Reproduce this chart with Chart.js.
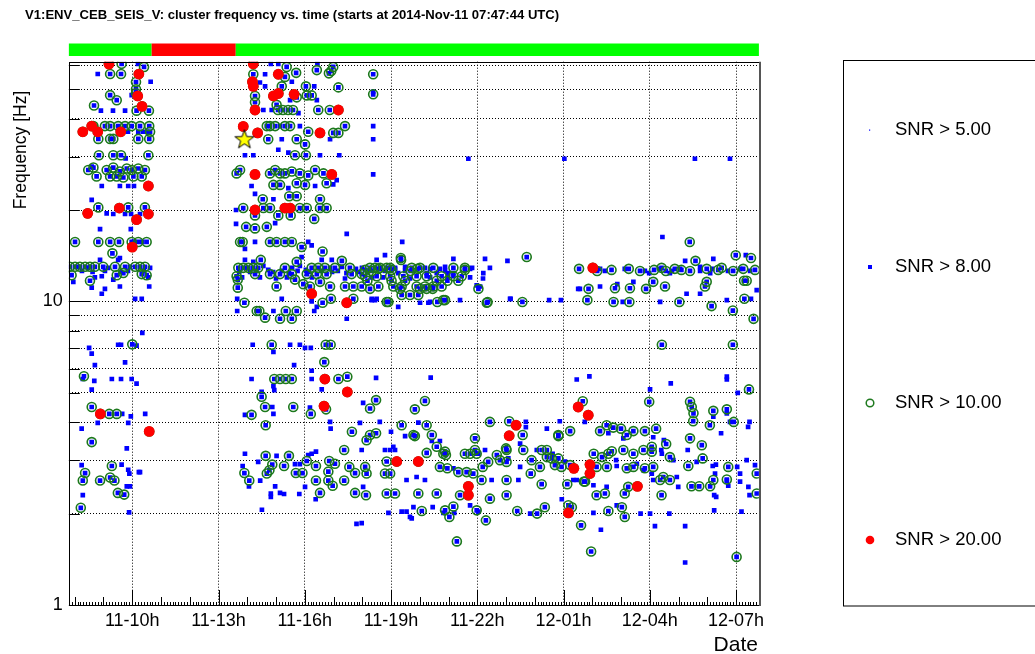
<!DOCTYPE html>
<html><head><meta charset="utf-8">
<script src="https://cdn.jsdelivr.net/npm/chart.js@4.4.1/dist/chart.umd.min.js"></script>
<style>html,body{margin:0;padding:0;background:#fff;overflow:hidden}canvas{display:block}</style>
</head><body>
<canvas id="c" width="1035" height="654"></canvas>
<script>
// ---- text / axis definitions ----
const titleText = 'V1:ENV_CEB_SEIS_V: cluster frequency vs. time (starts at 2014-Nov-11 07:47:44 UTC)';
const xAxisTitle = 'Date';
const yAxisTitle = 'Frequency [Hz]';
const timeStart = 7.7956;   // hours since 2014-11-11 00:00 UTC
const timeEnd = 31.7956;
const freqMin = 1;
const freqMax = 61.6;
const xTickHours = [10, 13, 16, 19, 22, 25, 28, 31];
const xTickLabels = ['11-10h', '11-13h', '11-16h', '11-19h', '11-22h', '12-01h', '12-04h', '12-07h'];
const yTickValues = [1, 2, 3, 4, 5, 6, 7, 8, 9, 10, 20, 30, 40, 50, 60];
const yTickLabels = { 1: '1', 10: '10' };
const legendLabels = ['SNR > 5.00', 'SNR > 8.00', 'SNR > 10.00', 'SNR > 20.00'];
// data-quality segments (hours)
const segStart = [7.7956, 10.675, 13.60];
const segEnd = [10.675, 13.60, 31.7956];
const segGood = [true, false, true];

// ---- events: [time (h since Nov-11 00:00), frequency (Hz)] ----
// SNR between 8 and 10
const snr8only = [
[10.20,60.6],[8.80,56.1],[10.64,52.9],[9.75,42.5],[9.33,42.5],[8.91,42.5],[9.98,47.8],
[10.21,36.2],[10.38,36.2],[9.85,36.2],[10.52,36.2],[9.77,29.6],
[8.94,24.0],[9.57,24.0],[9.86,24.0],[10.06,24.0],[8.59,27.8],
[9.11,19.5],[9.34,19.4],[9.75,19.4],[9.96,19.4],[10.27,19.4],[8.59,21.6],[8.88,17.3],[9.95,17.3],
[10.06,15.7],[10.35,15.7],[8.88,13.7],[9.57,13.9],[9.51,13.7],
[8.11,13.0],[8.46,12.9],[9.16,12.9],[9.92,13.0],[10.62,12.9],[8.25,12.6],[8.62,12.5],[9.05,12.6],[9.60,12.5],[9.85,12.6],[10.40,12.6],
[7.95,11.6],[8.70,12.0],[8.94,12.1],[9.34,11.8],[9.57,11.2],[9.05,11.0],[8.94,10.6],[8.59,11.1],[10.56,12.0],[10.59,11.2],[10.10,10.2],[10.33,10.2],
[10.35,7.88],[10.15,7.15],[8.50,7.03],[8.59,6.73],[8.70,6.17],[9.51,7.20],[9.61,7.20],[9.75,6.30],[8.28,5.55],[8.68,5.47],[9.29,5.55],[9.61,5.55],[9.98,5.55],[10.15,5.36],[8.59,5.12],[9.65,4.26],[8.80,3.98],[9.95,4.18],[9.86,3.98],[10.45,4.26],[8.24,3.81],[9.81,3.28],[8.24,2.89],[8.28,2.30],[9.63,2.90],[9.86,2.79],[9.90,2.71],[9.81,2.46],[9.92,2.46],[10.23,2.74],[10.27,2.74],[9.89,2.02],
[14.82,60.6],[15.08,60.6],[16.44,60.6],[14.62,56.0],[14.44,52.6],[15.55,52.9],[16.33,51.1],[14.62,51.1],[16.42,46.0],[15.49,46.0],[18.38,49.0],[14.56,42.7],[14.85,42.7],[15.78,41.7],
[18.38,37.8],[18.38,34.2],[15.20,34.2],[15.08,31.6],[15.43,30.9],[13.92,30.3],[14.21,30.3],[16.53,30.3],[17.20,30.3],[16.88,34.2],[21.69,29.5],[15.14,37.8],[15.83,37.8],
[14.15,24.0],[15.43,23.6],[16.36,24.0],[16.99,24.3],[17.11,25.1],[18.38,26.2],
[14.27,22.6],[14.91,21.7],[13.61,20.0],[13.61,18.0],[17.46,16.7],[14.97,18.1],
[13.92,14.9],[14.27,15.7],[16.12,15.7],[16.24,15.3],[19.39,15.7],[15.89,14.0],[13.92,13.7],[14.21,13.5],[16.94,13.7],[16.59,13.7],[18.79,14.2],[18.50,13.7],[21.17,13.8],[22.27,13.8],[23.05,13.6],
[13.99,12.9],[14.56,13.1],[14.73,12.7],[15.56,12.9],[15.83,13.1],[16.04,12.7],[16.88,12.9],[17.29,13.0],[17.78,12.8],[17.99,12.9],[19.14,12.9],[19.49,13.0],[20.18,12.9],[20.70,12.8],[20.88,13.0],[21.82,12.9],[22.44,12.9],
[13.72,12.5],[14.10,12.5],[14.30,12.6],[14.90,12.5],[15.20,12.6],[15.45,12.4],[15.75,12.6],[16.15,12.5],[16.58,12.6],[16.95,12.5],[17.15,12.6],[17.45,12.4],[17.85,12.5],[18.18,12.5],
[13.82,12.0],[14.44,12.0],[15.00,11.9],[15.38,12.0],[16.25,12.0],[17.40,11.9],[18.34,12.0],[18.72,12.0],[19.66,11.9],[20.36,12.0],[20.98,12.0],[21.75,12.0],[22.20,11.9],
[13.65,10.2],[15.20,10.2],[16.42,9.59],[18.33,10.2],[18.50,10.2],[19.25,9.59],[20.01,9.9],[20.30,9.9],[23.14,10.2],[22.10,11.2],[22.21,12.4],[17.46,8.77],
[13.65,9.3],[14.91,9.3],[16.33,9.3],[16.24,10.0],
[14.19,7.2],[14.91,6.82],[15.49,7.2],[15.83,7.2],[16.01,7.03],[16.21,7.03],[16.24,5.91],[15.63,6.17],[14.15,5.55],[16.24,5.55],[14.91,5.26],[14.94,5.10],[16.59,5.13],[14.50,5.04],[14.87,4.49],[16.18,4.47],[13.92,4.23],[14.91,4.26],[16.88,4.01],[16.90,3.81],
[13.92,3.15],[15.02,3.10],[16.12,3.12],[16.24,3.15],[16.39,3.20],[14.38,2.96],[15.66,2.91],[15.83,2.91],[13.84,2.87],[14.06,2.46],[14.45,2.57],[14.97,2.46],[14.82,2.33],[14.82,2.27],[15.14,2.34],[15.28,2.32],[15.81,2.32],[16.01,2.45],[16.38,2.23],[14.51,2.06],[17.80,1.85],
[25.03,29.5],[29.57,29.5],[30.79,29.5],[28.44,16.3],
[31.34,14.2],[30.21,13.8],[29.23,13.6],
[20.24,12.4],[20.59,12.4],[20.99,12.4],[21.17,12.4],[19.25,12.4],[26.27,11.2],[25.51,11.0],[26.87,11.4],[27.43,11.6],[27.98,12.4],[28.70,12.4],[30.10,12.4],[29.75,13.0],
[18.33,10.1],[18.44,10.1],[20.36,9.96],[21.40,10.1],[21.98,11.3],[23.16,10.2],[24.50,10.1],[24.91,10.1],[25.57,11.0],[27.06,9.96],[28.36,9.96],[29.28,10.6],[29.75,10.6],[30.68,10.1],[31.52,10.2],[31.72,10.9],
[18.62,12.8],[18.79,12.6],[19.14,12.8],[19.49,12.6],[20.36,12.8],[20.88,12.6],[21.75,12.8],[26.27,12.8],[26.44,12.6],[27.13,12.8],[27.83,12.6],[28.36,12.8],[28.77,12.6],[29.05,12.8],[29.75,12.6],[30.17,12.8],[30.72,12.6],[31.14,12.8],[31.49,12.6],
[20.38,5.61],[18.48,5.60],[28.73,5.37],[30.68,5.65],[30.68,5.53],[31.06,5.00],[28.01,5.13],[25.46,5.53],[25.90,5.66],
[18.03,4.63],[18.61,4.01],[17.92,3.98],[19.00,3.72],[19.49,3.60],[19.95,3.99],[23.69,4.01],[23.69,3.85],[30.79,4.01],[30.68,4.28],[30.48,3.68],[31.47,4.01],[24.87,4.03],[24.42,3.81],
[20.42,3.47],[20.70,3.47],[19.08,3.32],[19.14,3.24],[18.79,3.24],[18.97,3.24],[23.49,3.40],[24.62,3.15],[28.40,3.24],[28.42,3.15],[29.32,3.24],[30.19,2.87],[30.30,2.90],[31.04,2.85],[30.68,2.57],[30.73,2.47],
[18.03,2.45],[19.54,2.58],[20.18,2.58],[22.50,2.58],[23.43,2.58],[25.34,2.58],[26.04,2.48],[26.50,2.45],[28.12,2.58],[28.99,2.45],[30.24,2.30],[30.31,2.27],[31.14,2.55],[31.43,2.45],[31.47,2.30],
[17.98,1.86],[18.91,2.01],[19.37,2.03],[19.54,2.03],[19.66,1.95],[19.72,1.93],[19.78,2.10],[20.45,2.10],[20.82,2.01],[21.20,2.01],[21.75,2.13],[22.04,2.03],[23.84,2.00],[24.94,2.23],[26.30,1.77],[26.04,2.01],[26.85,2.13],[27.68,2.00],[28.01,2.00],[28.18,1.82],[28.68,2.00],[29.23,1.82],[30.24,2.05],[31.19,2.03],[29.23,1.38],
[17.98,3.24],[19.89,2.64],[21.17,2.82],[22.04,3.15],[22.27,3.24],[23.08,3.04],[23.49,2.85],[24.07,3.24],[25.05,2.97],[25.46,2.58],[26.83,3.00],[26.85,2.87],[27.55,2.92],[27.78,2.78],[28.07,2.71],[28.82,3.00],[28.94,2.64],[29.63,2.96],[30.27,2.71],[31.14,2.71],[31.37,3.00],[31.66,2.89],[31.42,3.86],[30.21,4.17],[28.49,3.49],[28.12,3.57],[27.08,3.54],[26.56,3.68],[25.74,4.01]
];
// SNR between 10 and 20
const snr10only = [
[9.63,60.6],[10.41,59.2],[9.23,56.1],[9.61,56.1],[10.13,52.8],[10.13,50.0],[10.13,48.5],[10.15,42.5],[10.58,42.5],[8.67,44.2],[9.23,47.8],[9.46,46.0],
[8.65,37.8],[9.05,37.8],[9.23,37.8],[9.51,37.8],[9.75,37.8],[9.98,37.8],[10.27,37.8],[10.59,37.8],
[8.82,34.3],[9.23,34.3],[9.34,34.3],[10.21,34.3],[10.59,34.3],[10.62,36.2],
[8.84,30.3],[9.34,30.3],[9.61,30.3],[10.56,30.3],
[8.47,27.1],[8.65,27.6],[9.11,27.1],[9.34,27.6],[9.57,26.8],[9.81,27.4],[9.98,27.1],[10.21,27.4],[10.44,27.1],
[8.76,25.8],[9.23,25.8],[9.46,25.8],[9.69,25.6],[10.04,25.8],[10.33,25.8],
[8.82,20.4],[9.86,20.4],[10.44,20.4],
[8.01,15.7],[8.82,15.7],[9.23,15.7],[9.54,15.7],[9.98,15.7],[10.21,15.7],[10.50,15.7],[9.31,14.4],
[7.83,13.0],[8.01,13.0],[8.18,13.0],[8.36,13.0],[8.53,13.0],[8.70,13.0],[8.99,13.0],[9.40,13.0],[9.75,13.0],[10.10,13.0],[10.27,13.0],[10.44,13.0],
[7.89,12.2],[9.46,12.2],[9.69,12.4],[10.33,12.3],[10.50,12.2],[8.53,11.7],
[10.0,7.22],[8.32,5.67],[8.59,4.49],[9.20,4.26],[9.46,4.26],[8.59,3.44],[8.36,2.72],[8.28,2.57],[8.88,2.57],[9.29,2.87],[9.23,2.63],[9.38,2.57],[9.50,2.34],[9.72,2.31],[8.21,2.09],
[15.37,59.2],[16.99,59.2],[16.84,56.4],[16.92,57.4],[16.42,57.8],[14.21,56.0],[15.70,56.6],[15.31,54.9],[15.20,51.1],[16.04,51.1],[17.17,50.7],[14.27,47.5],[14.27,45.3],[15.72,47.0],[16.07,47.7],[16.24,47.7],[18.38,48.1],[18.38,56.0],[15.02,44.4],
[15.07,42.7],[15.24,42.7],[15.42,42.7],[15.59,42.7],[16.47,42.7],[16.87,42.7],
[14.68,37.8],[14.79,37.8],[14.97,37.8],[15.31,37.8],[15.49,37.8],[16.12,36.2],[17.17,35.9],[17.40,37.8],[16.99,35.9],[14.73,34.2],[15.72,34.2],[16.01,32.9],[15.66,30.3],[16.04,30.3],
[13.63,26.4],[13.75,27.1],[14.79,26.4],[14.97,27.1],[15.14,26.4],[15.31,26.4],[15.55,26.8],[15.83,26.4],[16.12,26.0],[16.36,27.1],[16.65,26.4],
[14.91,24.2],[15.14,24.2],[15.72,24.5],[16.01,24.2],[16.76,24.5],
[14.54,21.7],[15.46,22.2],[15.72,22.2],[16.53,21.7],
[13.86,20.3],[14.56,20.3],[14.79,20.3],[15.83,20.3],[16.07,20.3],[16.53,20.3],[16.76,20.3],[15.08,19.2],[16.33,18.7],[15.51,19.2],[14.27,19.2],
[13.96,17.6],[14.27,17.4],[14.68,17.6],
[13.75,15.7],[13.84,15.7],[14.79,15.7],[15.02,15.7],[15.31,15.7],[15.55,15.7],[15.89,15.1],[16.62,14.6],
[17.29,13.6],[14.47,13.7],[19.35,13.7],[15.72,13.5],
[13.69,12.9],[13.86,12.9],[14.04,12.9],[14.21,12.9],[14.38,12.9],[15.31,12.9],[16.24,12.9],[16.47,12.9],[16.70,12.9],[17.05,12.9],[17.57,12.9],[18.27,12.9],[18.44,12.9],[18.62,12.9],[18.85,12.9],[18.97,12.9],[19.72,12.9],[20.01,12.9],[20.47,12.9],[21.17,12.9],[21.57,12.9],
[14.27,12.3],[14.79,12.3],[15.14,12.3],[15.55,12.3],[16.07,12.3],[16.42,12.3],[16.76,12.3],[17.63,12.3],[17.98,12.3],
[13.63,12.1],[18.10,12.1],[18.50,12.1],[18.97,12.1],[19.43,12.1],[19.89,12.1],[20.24,12.1],[20.76,12.1],[21.17,12.1],[21.46,12.1],
[13.67,11.8],[13.67,11.1],[15.66,11.8],[15.95,11.4],[16.53,11.6],[16.88,11.2],[17.40,11.2],[17.69,11.2],[17.98,11.2],[18.27,11.0],[15.02,11.2],[16.18,11.2],[18.56,11.2],[19.08,11.2],[19.37,11.2],[19.89,11.2],[20.18,11.2],[20.47,11.2],[20.76,11.2],
[13.90,9.9],[16.62,9.9],[16.91,10.2],[17.69,10.2],[18.85,9.96],[19.37,10.5],[19.66,10.5],[19.95,10.5],[20.82,10.1],[22.33,9.9],
[14.33,9.3],[14.42,9.3],[14.62,8.84],[15.14,8.77],[15.34,9.3],[15.55,8.77],[15.72,9.3],
[14.85,7.2],[16.73,7.2],[16.90,7.2],[16.68,6.31],
[14.94,5.55],[15.14,5.55],[15.34,5.55],[15.55,5.55],[17.17,5.55],[17.48,5.65],
[14.50,4.85],[14.62,4.49],[15.60,4.49],[16.74,4.41],[16.21,4.26],[14.15,4.23],[14.64,3.91],[17.64,3.72],[17.37,3.24],
[14.64,3.10],[15.45,3.10],[14.87,2.90],[14.77,2.78],[14.68,2.71],[15.28,2.87],[16.07,2.98],[16.39,2.87],[16.85,2.98],[17.05,2.92],[17.55,2.85],[17.75,2.72],[13.90,2.72],[14.07,2.57],[15.69,2.72],[15.92,2.72],[16.39,2.57],[16.82,2.75],[16.82,2.57],[16.97,2.47],[17.37,2.57],[16.53,2.34],[17.75,2.34],
[19.34,13.9],[23.72,14.0],[29.39,15.7],[30.99,14.2],[31.52,13.9],[29.59,13.6],
[18.10,12.7],[18.33,12.6],[18.56,12.8],[19.02,12.7],[19.68,12.6],[19.92,12.8],[21.57,12.7],[25.54,12.8],[26.17,12.6],[26.67,12.7],[27.27,12.8],[27.66,12.6],[28.15,12.7],[28.41,12.9],[28.56,12.6],[28.87,12.8],[29.10,12.7],[29.40,12.6],[29.98,12.8],[30.38,12.7],[30.50,12.9],[30.90,12.6],[31.25,12.8],[31.66,12.7],
[18.18,11.7],[19.02,11.7],[19.49,11.7],[20.59,11.7],[20.96,11.7],[21.34,11.7],[28.12,11.6],[29.98,11.6],[31.28,11.7],[31.37,11.7],
[19.31,11.0],[20.01,11.0],[20.24,11.0],[20.45,11.0],[22.04,11.0],[25.87,11.0],[26.79,11.05],[27.31,11.05],[27.87,11.0],[28.53,11.2],[29.92,11.2],
[18.91,9.96],[20.61,9.96],[20.88,10.1],[22.36,9.96],[23.57,9.96],[25.83,10.1],[26.74,9.96],[27.29,9.96],[29.03,9.96],[30.89,9.33],[31.29,10.2],[31.61,8.76],[30.15,9.65],
[28.42,7.2],[30.89,7.2],[31.45,5.13],
[18.48,4.73],[18.27,4.44],[20.18,4.70],[19.83,4.41],[27.98,4.67],[29.40,4.67],[29.46,4.49],[29.52,4.28],[30.21,4.36],[30.68,4.41],[25.67,4.69],
[19.37,3.91],[20.24,3.91],[22.44,4.01],[23.11,4.03],[23.58,3.63],[19.78,3.63],[20.42,3.63],[18.48,3.68],[18.27,3.63],[29.51,4.03],[30.09,3.91],[30.92,4.01],[29.40,3.54],[25.23,3.74],[24.82,3.63],
[26.27,3.74],[26.50,3.91],[26.73,3.84],[27.00,3.81],[27.20,3.63],[27.43,3.74],[27.83,3.74],[28.22,3.81],
[21.92,3.54],[21.92,3.24],[23.02,3.24],[23.60,3.24],[22.68,3.12],[20.59,3.32],[20.88,3.20],[20.91,3.12],[20.24,3.17],[18.15,3.49],[19.83,3.60],
[24.24,3.24],[24.82,3.60],[24.42,3.24],[24.82,3.04],[26.05,3.15],[26.51,2.85],[26.34,3.07],[26.56,3.15],[26.68,3.21],[27.08,3.24],[27.43,3.15],[27.78,3.24],[28.07,3.32],[28.07,3.20],[28.57,3.39],[28.70,3.07],[29.34,2.87],[29.81,3.36],[29.84,3.04],[30.73,2.85],[31.72,2.71],[30.68,2.59],[30.21,2.58],
[18.85,2.97],[18.79,2.71],[18.97,2.71],[18.10,2.85],[18.15,2.71],[20.70,2.85],[20.96,2.82],[21.34,2.74],[21.63,2.74],[21.86,2.71],[20.82,3.15],[21.57,3.15],[21.75,3.15],[21.98,3.15],[22.19,2.85],[22.38,2.96],[22.79,3.00],[23.02,2.96],[23.00,3.28],[23.89,3.00],[24.18,2.85],[24.42,3.07],[24.59,3.04],[24.70,2.89],[24.93,2.85],[25.23,2.89],[25.75,2.55],[26.15,2.85],[27.20,2.82],[27.43,2.85],[27.83,2.82],[28.12,2.85],[28.36,2.58],[28.47,2.64],[28.70,2.58],
[18.13,2.30],[18.85,2.33],[19.14,2.33],[19.95,2.33],[20.59,2.33],[21.40,2.30],[22.15,2.58],[22.44,2.24],[23.02,2.30],[23.02,2.58],[23.86,2.71],[24.24,2.50],[25.13,2.50],[25.71,2.55],[26.15,2.30],[26.44,2.33],[27.25,2.45],[27.13,2.33],[28.41,2.30],[29.45,2.46],[29.72,2.46],[30.10,2.46],[31.72,2.33],
[20.07,2.04],[21.03,1.95],[20.88,2.05],[21.17,2.11],[21.98,2.05],[22.30,1.90],[23.39,2.04],[24.08,2.00],[24.35,2.10],[25.17,2.13],[25.29,2.10],[25.61,1.83],[26.56,2.04],[27.03,2.10],[27.13,1.95],[21.29,1.62],[25.96,1.50],[31.02,1.44]
];
// SNR above 20
const snr20 = [
[9.19,60.5],[10.23,56.1],[10.19,47.5],[10.34,43.9],[8.28,36.2],[8.59,37.8],[8.80,36.2],[9.60,36.2],[10.56,24.0],[8.45,19.5],[9.55,20.3],[10.15,18.6],[10.56,19.4],[10.0,15.1],[8.89,4.26],[10.59,3.73],
[14.21,60.6],[15.08,56.0],[14.18,52.9],[14.21,51.1],[14.91,47.5],[15.08,48.4],[15.63,48.1],[14.27,42.7],[17.17,42.7],[13.86,37.7],[14.36,35.9],[16.53,35.9],[14.27,26.2],[16.94,26.2],[14.27,20.0],[15.31,20.3],[15.49,20.3],[16.24,10.6],[17.46,9.9],[16.70,5.55],[17.48,5.03],[16.67,4.52],
[26.02,12.9],[19.20,2.97],[19.95,2.97],[23.35,3.91],[23.11,3.61],[25.51,4.49],[25.86,4.22],[25.36,2.82],[25.92,2.90],[25.92,2.71],[21.69,2.46],[21.69,2.30],[27.57,2.46],[25.17,2.01]
];
// loudest event
const loudest = [[13.90,34.2]];

// ---- build chart ----
const toXY = a => a.map(p => ({ x: p[0], y: p[1] }));
const allSnr8 = snr8only.concat(snr10only, snr20);
const allSnr10 = snr10only.concat(snr20);

function makeStar() {
  const c = document.createElement('canvas');
  c.width = 22; c.height = 22;
  const g = c.getContext('2d');
  g.beginPath();
  for (let i = 0; i < 10; i++) {
    const r = (i % 2) ? 4 : 10;
    const a = -Math.PI / 2 + i * Math.PI / 5;
    g.lineTo(11 + r * Math.cos(a), 11.5 + r * Math.sin(a));
  }
  g.closePath();
  g.fillStyle = '#ffff00'; g.fill();
  g.strokeStyle = '#000'; g.lineWidth = 1; g.stroke();
  return c;
}

const FONT = '"Liberation Sans", Arial, Helvetica, sans-serif';

const decor = {
  id: 'decor',
  beforeDraw(chart) {
    const ctx = chart.ctx;
    ctx.save(); ctx.fillStyle = '#fff'; ctx.fillRect(0, 0, chart.width, chart.height); ctx.restore();
  },
  afterDraw(chart) {
    const ctx = chart.ctx;
    const { left, right, top, bottom } = chart.chartArea;
    const xs = chart.scales.x, ys = chart.scales.y;
    ctx.save();
    // data-quality segment bar
    for (let i = 0; i < segStart.length; i++) {
      const x0 = xs.getPixelForValue(segStart[i]);
      const x1 = xs.getPixelForValue(segEnd[i]);
      ctx.fillStyle = segGood[i] ? '#00ff00' : '#ff0000';
      ctx.fillRect(x0, 43.5, x1 - x0, 12.5);
    }
    // frame
    ctx.strokeStyle = '#000'; ctx.lineWidth = 1;
    ctx.strokeRect(Math.round(left) + 0.5, Math.round(top) + 0.5, Math.round(right - left), Math.round(bottom - top));
    ctx.strokeStyle = '#555'; ctx.lineWidth = 2;
    ctx.beginPath(); ctx.moveTo(Math.round(right) + 1, top); ctx.lineTo(Math.round(right) + 1, bottom + 1); ctx.stroke();
    // ticks (inside, ROOT style)
    ctx.strokeStyle = '#000'; ctx.lineWidth = 1;
    ctx.beginPath();
    yTickValues.forEach(v => {
      const p = Math.round(ys.getPixelForValue(v)) + 0.5;
      const len = (v === 1 || v === 10) ? 22 : 11;
      ctx.moveTo(left, p); ctx.lineTo(left + len, p);
    });
    for (let h = Math.ceil(timeStart); h <= timeEnd; h++) {
      const p = Math.round(xs.getPixelForValue(h)) + 0.5;
      const len = xTickHours.includes(h) ? 15 : 8;
      ctx.moveTo(p, bottom); ctx.lineTo(p, bottom - len);
    }
    for (let k = Math.ceil(timeStart * 10); k <= timeEnd * 10; k++) {
      const p = Math.round(xs.getPixelForValue(k / 10)) + 0.5;
      ctx.moveTo(p, bottom); ctx.lineTo(p, bottom - 3);
    }
    ctx.stroke();
    // title
    ctx.fillStyle = '#000';
    ctx.font = 'bold 13.1px ' + FONT;
    ctx.textAlign = 'left'; ctx.textBaseline = 'alphabetic';
    ctx.fillText(titleText, 25, 19);
    // axis titles
    ctx.font = '21px ' + FONT;
    ctx.textAlign = 'right'; ctx.textBaseline = 'middle';
    ctx.fillText(xAxisTitle, right - 1, 645);
    ctx.save();
    ctx.font = '17.5px ' + FONT;
    ctx.translate(21, 150); ctx.rotate(-Math.PI / 2);
    ctx.textAlign = 'center';
    ctx.fillText(yAxisTitle, 0, 0);
    ctx.restore();
    // legend
    ctx.strokeStyle = '#000'; ctx.lineWidth = 1;
    ctx.strokeRect(843.5, 60.5, 220, 545.5);
    const ly = [130, 267, 403, 540];
    ctx.font = '18.5px ' + FONT;
    ctx.textAlign = 'left'; ctx.textBaseline = 'middle';
    legendLabels.forEach((lab, i) => {
      const y = ly[i];
      if (i === 0) { ctx.fillStyle = '#0000ff'; ctx.fillRect(869, y - 0.5, 1.2, 1.2); }
      if (i === 1) { ctx.fillStyle = '#0000ff'; ctx.fillRect(868, y - 2, 4, 4); }
      if (i === 2) { ctx.strokeStyle = '#1f7a1f'; ctx.lineWidth = 1.5; ctx.beginPath(); ctx.arc(870, y, 3.8, 0, Math.PI * 2); ctx.stroke(); }
      if (i === 3) { ctx.fillStyle = '#ff0000'; ctx.beginPath(); ctx.arc(870, y, 4.3, 0, Math.PI * 2); ctx.fill(); }
      ctx.fillStyle = '#000';
      ctx.fillText(lab, 895, y);
    });
    ctx.restore();
  }
};

new Chart(document.getElementById('c'), {
  type: 'scatter',
  data: {
    datasets: [
      { label: legendLabels[0], data: toXY(allSnr8), pointStyle: 'circle', pointRadius: 0.7, backgroundColor: '#0000ff', borderWidth: 0, order: 4 },
      { label: legendLabels[1], data: toXY(allSnr8), pointStyle: 'rect', pointRadius: 3.3, backgroundColor: '#0000ff', borderWidth: 0, order: 3 },
      { label: legendLabels[2], data: toXY(allSnr10), pointStyle: 'circle', pointRadius: 4.5, backgroundColor: 'rgba(0,0,0,0)', borderColor: '#1c781c', borderWidth: 1.6, order: 2 },
      { label: legendLabels[3], data: toXY(snr20), pointStyle: 'circle', pointRadius: 5.4, backgroundColor: '#ff0000', borderWidth: 0, order: 1 },
      { label: 'loudest', data: toXY(loudest), pointStyle: makeStar(), pointRadius: 10, order: 0 }
    ]
  },
  options: {
    responsive: false,
    devicePixelRatio: 1,
    animation: false,
    events: [],
    layout: { padding: { left: 0, right: 1035 - 758.9, top: 61.7, bottom: 0 } },
    plugins: { legend: { display: false }, title: { display: false }, tooltip: { enabled: false } },
    scales: {
      x: {
        type: 'linear', min: timeStart, max: timeEnd,
        afterFit: s => { s.height = 49; },
        afterBuildTicks: s => {
          const t = [];
          for (let h = Math.ceil(timeStart); h <= timeEnd; h++) t.push({ value: h });
          s.ticks = t;
        },
        ticks: {
          autoSkip: false, maxRotation: 0, padding: 5, color: '#000',
          font: { family: FONT, size: 18 },
          callback: v => { const i = xTickHours.indexOf(v); return i >= 0 ? xTickLabels[i] : ''; }
        },
        grid: {
          drawTicks: false, lineWidth: 1,
          color: c => (c.tick && xTickHours.includes(c.tick.value)) ? '#000' : 'rgba(0,0,0,0)'
        },
        border: { display: false, dash: [1, 2] }
      },
      y: {
        type: 'logarithmic', min: freqMin, max: freqMax,
        afterFit: s => { s.width = 68.87; },
        afterBuildTicks: s => { s.ticks = yTickValues.map(v => ({ value: v })); },
        ticks: {
          autoSkip: false, padding: 6, color: '#000',
          font: { family: FONT, size: 18 },
          callback: v => yTickLabels[v] || ''
        },
        grid: {
          drawTicks: false, lineWidth: 1,
          color: c => (c.tick && c.tick.value !== 1) ? '#000' : 'rgba(0,0,0,0)'
        },
        border: { display: false, dash: [1, 2] }
      }
    }
  },
  plugins: [decor]
});
</script>
</body></html>
